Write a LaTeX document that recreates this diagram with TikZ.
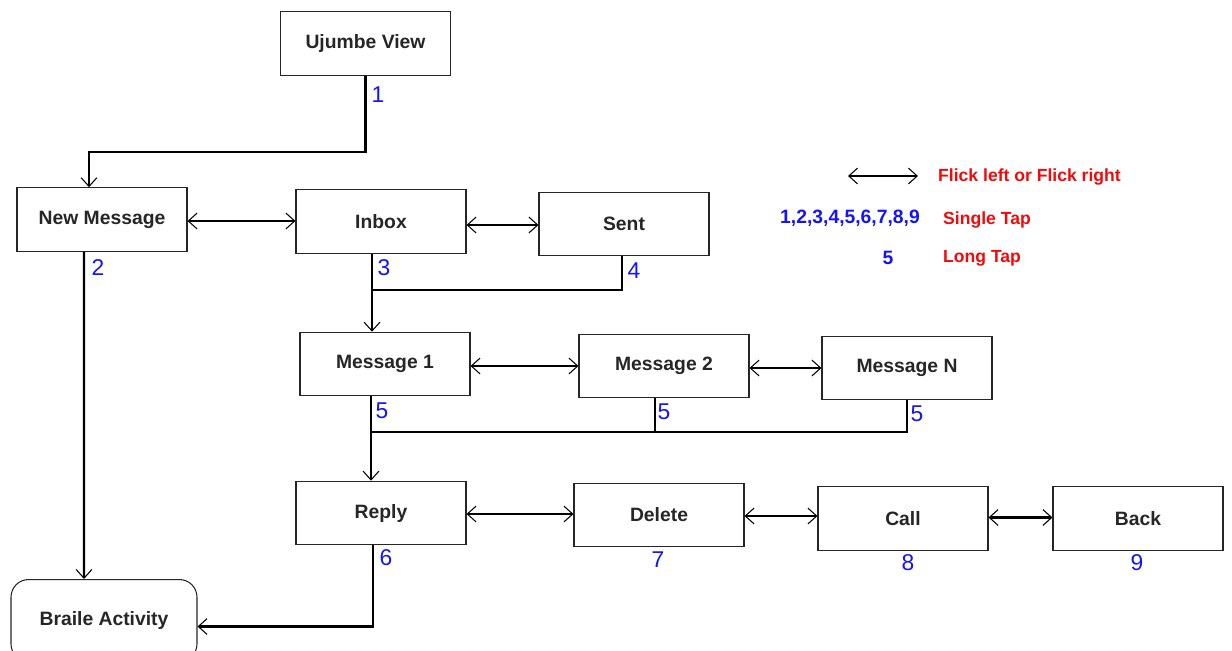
\documentclass[tikz,border=0pt]{standalone}
\usepackage{fontspec}
\setmainfont{Liberation Sans}
\usetikzlibrary{arrows.meta, positioning}
\definecolor{tapblue}{RGB}{20,20,245}
\definecolor{legred}{RGB}{240,10,10}

\begin{document}
\begin{tikzpicture}[
  x=0.02cm, y=-0.02cm,
  screen/.style={rectangle, draw=black!85, line width=0.6pt, fill=white,
                 minimum width=3.4cm, minimum height=1.27cm, align=center,
                 text=black!85, font=\bfseries\fontsize{11}{13}\selectfont},
  link/.style={line width=1.2pt, black},
  tip/.style={-{Straight Barb[length=5pt, width=9pt, line width=0.6pt]}},
  both/.style={{Straight Barb[length=5pt, width=9pt, line width=0.6pt]}-{Straight Barb[length=5pt, width=9pt, line width=0.6pt]}},
  tap/.style={text=tapblue, font=\fontsize{13}{15}\selectfont},
  leg/.style={text=legred, font=\bfseries\fontsize{10}{12}\selectfont}
]
  \useasboundingbox (0,0) rectangle (1232,650);

  % screens
  \node[screen] (ujumbe) at (365.5,43.5) {Ujumbe View};
  \node[screen] (newmsg) at (102,219.5) {New Message};
  \node[screen] (inbox) at (381,221.5) {Inbox};
  \node[screen] (sent) at (624,224) {Sent};
  \node[screen] (msg1) at (385,364) {Message 1};
  \node[screen] (msg2) at (664,366) {Message 2};
  \node[screen] (msgn) at (907,368) {Message N};
  \node[screen] (reply) at (381,513) {Reply};
  \node[screen] (delete) at (659,515) {Delete};
  \node[screen] (call) at (903,518.5) {Call};
  \node[screen] (back) at (1138,518.5) {Back};
  \node[screen, rounded corners=10pt, minimum width=3.72cm, minimum height=1.64cm,
        anchor=north] (braile) at (104,579) {Braile Activity};

  % junctions
  \coordinate (j3) at (372,290);
  \coordinate (j5) at (371,432);

  % single tap links
  \draw[link, tip] (ujumbe.south) -- ++(0,76) -| ([xshift=-0.26cm]newmsg.north);
  \draw[link, tip] ([xshift=-0.36cm]newmsg.south) -- ([xshift=-0.4cm]braile.north);
  \draw[link, tip] (inbox.south -| j3) -- (msg1.north -| j3);
  \draw[link] ([xshift=-0.04cm]sent.south) |- (j3);
  \draw[link, tip] (msg1.south -| j5) -- (reply.north -| j5);
  \draw[link] ([xshift=-0.18cm]msg2.south) |- (j5);
  \draw[link] (msgn.south) |- (j5);
  \draw[link, tip] ([xshift=-0.16cm]reply.south) |- ([yshift=-0.12cm]braile.east);

  % flick links
  \draw[link, both] ([yshift=-0.03cm]newmsg.east) -- ([yshift=-0.03cm]newmsg.east -| inbox.west);
  \draw[link, both] ([yshift=-0.07cm]inbox.east) -- ([yshift=-0.07cm]inbox.east -| sent.west);
  \draw[link, both] ([yshift=-0.04cm]msg1.east) -- ([yshift=-0.04cm]msg1.east -| msg2.west);
  \draw[link, both] ([yshift=-0.04cm]msg2.east) -- ([yshift=-0.04cm]msg2.east -| msgn.west);
  \draw[link, both] ([yshift=-0.02cm]reply.east) -- ([yshift=-0.02cm]reply.east -| delete.west);
  \draw[link, both] ([yshift=-0.02cm]delete.east) -- ([yshift=-0.02cm]delete.east -| call.west);
  \draw[link, both] ([yshift=0.02cm]call.east) -- ([yshift=0.02cm]call.east -| back.west);

  % tap numbers
  \node[tap] (t1) at (378,95) {1};
  \node[tap] (t2) at (98,268) {2};
  \node[tap] (t3) at (384,268) {3};
  \node[tap] (t4) at (634,271) {4};
  \node[tap] (t5a) at (382,411) {5};
  \node[tap] (t5b) at (664,412) {5};
  \node[tap] (t5c) at (917,414) {5};
  \node[tap] (t6) at (386,558) {6};
  \node[tap] (t7) at (658,560) {7};
  \node[tap] (t8) at (908,563) {8};
  \node[tap] (t9) at (1137,563) {9};

  % legend
  \coordinate (lgA) at (848,176);
  \coordinate (lgB) at (918,176);
  \draw[link, both] (lgA) -- (lgB);
  \node[leg, anchor=west] (flick) at (932,177) {Flick left or Flick right};
  \node[tap, font=\bfseries\fontsize{11}{13}\selectfont] (taps) at (850,218) {1,2,3,4,5,6,7,8,9};
  \node[leg, anchor=west] (single) at (937,220) {Single Tap};
  \node[tap, font=\bfseries\fontsize{11}{13}\selectfont] (longn) at (888,258) {5};
  \node[leg, anchor=west] (long) at (937,258) {Long Tap};
\end{tikzpicture}
\end{document}
